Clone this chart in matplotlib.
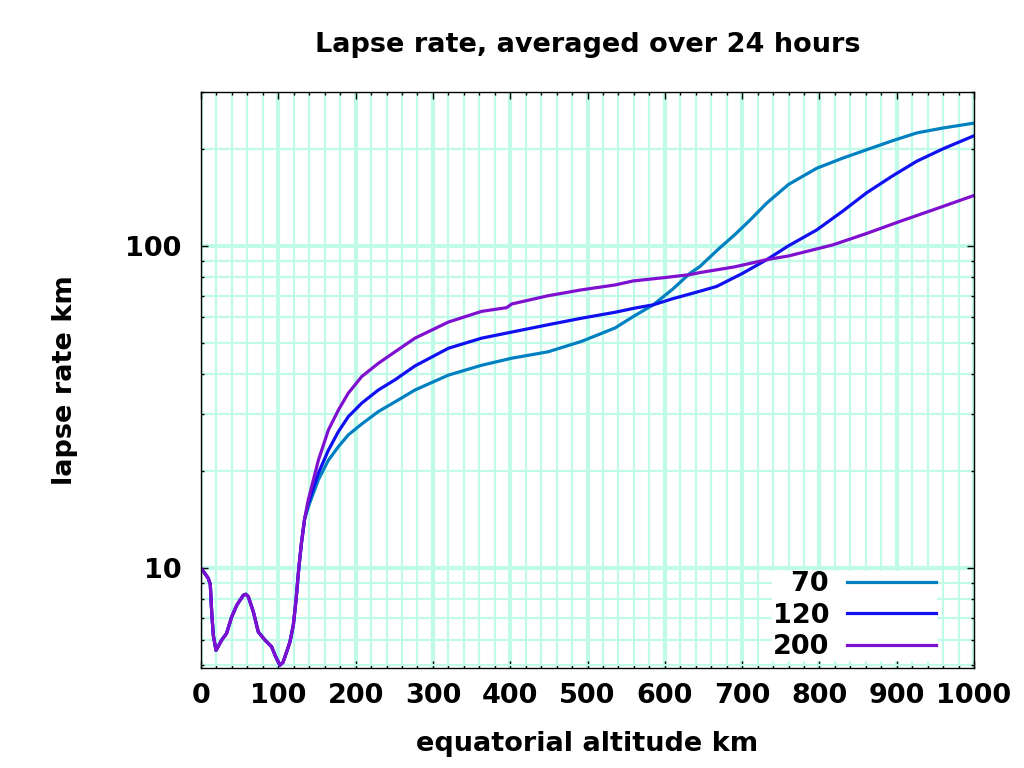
import matplotlib
matplotlib.use("Agg")
import matplotlib.pyplot as plt
from matplotlib.ticker import MultipleLocator, LogLocator, NullFormatter

# shared low-altitude part (all three curves coincide)
low_x = [0, 5, 9.5, 12, 13.8, 15.9, 19.4, 22, 26.7, 33, 39.7, 46.2, 54.7, 58,
         61.2, 67.7, 74.1, 82.8, 91.4, 96, 102, 106, 110.8, 115, 119.4, 123,
         126.5, 130, 134]
low_y = [10, 9.63, 9.29, 8.9, 7.32, 6.19, 5.56, 5.7, 5.98, 6.27, 7.06, 7.67,
         8.24, 8.3, 8.15, 7.32, 6.34, 5.98, 5.7, 5.35, 5.0, 5.1, 5.5, 5.9, 6.65,
         8.0, 10, 12, 14.2]

x70 = [138.8, 151.8, 164.7, 177.6, 190.5, 207.9, 229.4, 251, 276.8, 320, 363,
       402, 449, 492, 535.6, 560, 585, 610, 632.6, 645.5, 670, 690, 710, 732,
       760, 796.5, 830, 861, 895, 926, 960, 999]
y70 = [15.5, 18.8, 21.6, 23.8, 25.9, 28, 30.6, 32.8, 35.7, 39.7, 42.6, 44.8,
       46.9, 50.5, 55.6, 60.5, 65.6, 73.3, 82.2, 86.3, 98, 108, 120, 135.8, 155,
       174, 187, 198.6, 212, 224, 232, 240]

x120 = [138.8, 151.8, 164.7, 177.6, 190.5, 207.9, 229.4, 251, 276.8, 320, 363,
        402, 449, 492, 535.6, 560, 585, 610, 645.5, 667, 700, 732, 760, 796.5,
        830, 861, 895, 926, 960, 999]
y120 = [15.9, 19.7, 23.2, 26.5, 29.5, 32.5, 35.7, 38.4, 42.4, 48.1, 51.7, 54,
        56.9, 59.6, 62.2, 64.0, 65.6, 68.5, 72.3, 74.8, 82, 90.6, 100, 112, 128,
        146, 165, 183, 200, 219]

x200 = [138.8, 151.8, 164.7, 177.6, 190.5, 207.9, 229.4, 251, 276.8, 320, 363,
        395.5, 402, 449, 492, 535.6, 559, 600, 632.6, 645.5, 690, 732, 760, 817.6,
        860, 904, 950, 999]
y200 = [16.3, 21.6, 26.8, 30.9, 34.9, 39.3, 43.2, 46.9, 51.7, 58, 62.6, 64.3,
        66.0, 70, 73, 75.6, 77.8, 79.7, 81.4, 82.6, 86, 90.6, 93, 100.7, 109, 119,
        130, 143]

labels = ["  70", "120", "200"]
colors = ["#0080c0", "#1010f0", "#8010d0"]

grid_col = "#c0fbe9"
fs = 19.5

fig = plt.figure(figsize=(10.24, 7.68), dpi=100)
ax = fig.add_axes([0.1963, 0.1302, 0.7549, 0.75])

for xs, ys, lab, c in zip([x70, x120, x200], [y70, y120, y200], labels, colors):
    ax.plot(low_x + xs, low_y + ys, color=c, lw=2.3, label=lab)

ax.set_yscale("log")
ax.set_xlim(0, 1000)
ax.set_ylim(4.9, 300)

ax.xaxis.set_major_locator(MultipleLocator(100))
ax.xaxis.set_minor_locator(MultipleLocator(20))
ax.set_yticks([10, 100], ["10", "100"])
ax.yaxis.set_minor_locator(LogLocator(base=10, subs=range(2, 10)))
ax.yaxis.set_minor_formatter(NullFormatter())

ax.set_axisbelow(True)
ax.grid(which="major", color=grid_col, lw=3)
ax.grid(which="minor", color=grid_col, lw=1.6)

ax.tick_params(which="both", direction="in", top=True, right=True, width=1)
ax.tick_params(which="major", length=5, labelsize=fs, pad=11)
ax.tick_params(axis="y", which="major", pad=14)
ax.tick_params(which="minor", length=2.5)
for t in ax.get_xticklabels() + ax.get_yticklabels():
    t.set_fontweight("bold")
for s in ax.spines.values():
    s.set_linewidth(1)

fig.text(0.5737, 0.941, "Lapse rate, averaged over 24 hours", ha="center",
         va="center", fontsize=fs, fontweight="bold")
fig.text(0.5737, 0.031, "equatorial altitude km", ha="center", va="center",
         fontsize=fs, fontweight="bold")
fig.text(0.0635, 0.505, "lapse rate km", ha="center", va="center",
         rotation=90, fontsize=fs, fontweight="bold")

leg = ax.legend(loc="lower right", bbox_to_anchor=(0.9508, 0.0139),
                borderaxespad=0, markerfirst=False, frameon=True,
                fancybox=False, handlelength=3.3, handletextpad=0.65,
                labelspacing=0.2, borderpad=0.0,
                prop={"size": fs, "weight": "bold"})
leg.get_frame().set_facecolor("white")
leg.get_frame().set_edgecolor("white")
leg.get_frame().set_alpha(1)

fig.savefig("out.png", dpi=100)
